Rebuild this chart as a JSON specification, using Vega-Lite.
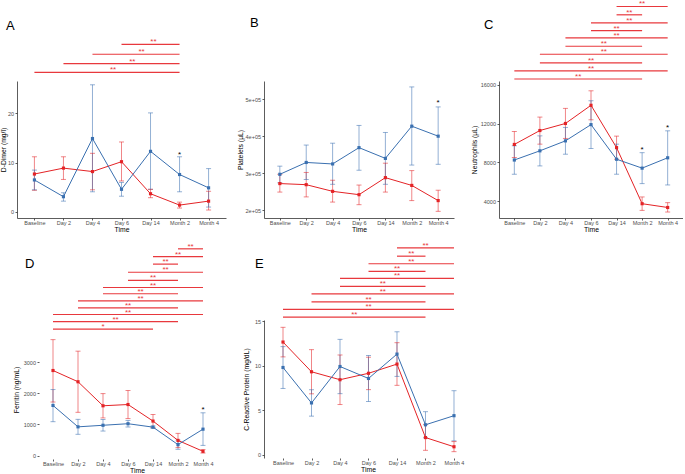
{
"$schema": "https://vega.github.io/schema/vega-lite/v6.json",
"background": "white",
"padding": 0,
"autosize": {"type": "pad"},
"config": {
  "font": "Liberation Sans",
  "view": {"stroke": null},
  "axis": {"grid": false, "labelFont": "Liberation Sans", "labelFontSize": 5.5, "labelColor": "#4D4D4D", "labelOverlap": false, "tickCount": 10, "tickSize": 2, "tickColor": "#333333", "tickWidth": 0.8, "domainColor": "#333333", "domainWidth": 0.8, "titleFont": "Liberation Sans", "titleFontSize": 6.8, "titleFontWeight": "normal", "titleColor": "#000000", "labelPadding": 1.5, "titlePadding": 2},
  "axisX": {"labelPadding": 0.5, "titlePadding": 0.5},
  "axisY": {"titlePadding": 4},
  "title": {"anchor": "start", "frame": "group", "fontSize": 13, "fontWeight": "normal", "color": "#000000", "offset": 0, "font": "Liberation Sans"}
},
"datasets": {
  "pts": [
    {"p":"A","g":"r","t":1,"y":7.7,"lo":4.4,"hi":11.2},{"p":"A","g":"r","t":2,"y":8.9,"lo":6.6,"hi":11.2},{"p":"A","g":"r","t":3,"y":8.2,"lo":4.5,"hi":11.9},{"p":"A","g":"r","t":4,"y":10.2,"lo":6.3,"hi":14.2},{"p":"A","g":"r","t":5,"y":3.7,"lo":2.9,"hi":4.6},{"p":"A","g":"r","t":6,"y":1.4,"lo":0.8,"hi":2.0},{"p":"A","g":"r","t":7,"y":2.2,"lo":0.4,"hi":4.2},
    {"p":"A","g":"b","t":1,"y":6.5,"lo":4.5,"hi":8.5},{"p":"A","g":"b","t":2,"y":3.1,"lo":2.2,"hi":3.9},{"p":"A","g":"b","t":3,"y":14.9,"lo":4.1,"hi":25.8},{"p":"A","g":"b","t":4,"y":4.6,"lo":3.2,"hi":6.0},{"p":"A","g":"b","t":5,"y":12.3,"lo":4.6,"hi":20.1},{"p":"A","g":"b","t":6,"y":7.6,"lo":4.1,"hi":11.2},{"p":"A","g":"b","t":7,"y":4.9,"lo":1.0,"hi":8.8},
    {"p":"B","g":"r","t":1,"y":272000,"lo":249000,"hi":297000},{"p":"B","g":"r","t":2,"y":269000,"lo":236000,"hi":302000},{"p":"B","g":"r","t":3,"y":251000,"lo":222000,"hi":281000},{"p":"B","g":"r","t":4,"y":242000,"lo":215000,"hi":268000},{"p":"B","g":"r","t":5,"y":288000,"lo":249000,"hi":327000},{"p":"B","g":"r","t":6,"y":267000,"lo":226000,"hi":307000},{"p":"B","g":"r","t":7,"y":226000,"lo":197000,"hi":254000},
    {"p":"B","g":"b","t":1,"y":297000,"lo":274000,"hi":319000},{"p":"B","g":"b","t":2,"y":329000,"lo":283000,"hi":376000},{"p":"B","g":"b","t":3,"y":325000,"lo":270000,"hi":381000},{"p":"B","g":"b","t":4,"y":369000,"lo":308000,"hi":429000},{"p":"B","g":"b","t":5,"y":340000,"lo":270000,"hi":410000},{"p":"B","g":"b","t":6,"y":427000,"lo":322000,"hi":533000},{"p":"B","g":"b","t":7,"y":400000,"lo":324000,"hi":479000},
    {"p":"C","g":"r","t":1,"y":9850,"lo":8500,"hi":11190},{"p":"C","g":"r","t":2,"y":11290,"lo":9880,"hi":12680},{"p":"C","g":"r","t":3,"y":12020,"lo":10470,"hi":13580},{"p":"C","g":"r","t":4,"y":13900,"lo":12400,"hi":15400},{"p":"C","g":"r","t":5,"y":9520,"lo":8320,"hi":10710},{"p":"C","g":"r","t":6,"y":3720,"lo":3030,"hi":4420},{"p":"C","g":"r","t":7,"y":3330,"lo":2860,"hi":3830},
    {"p":"C","g":"b","t":1,"y":8240,"lo":6770,"hi":9710},{"p":"C","g":"b","t":2,"y":9190,"lo":7630,"hi":10740},{"p":"C","g":"b","t":3,"y":10220,"lo":8840,"hi":11610},{"p":"C","g":"b","t":4,"y":11900,"lo":9430,"hi":14370},{"p":"C","g":"b","t":5,"y":8320,"lo":6770,"hi":9880},{"p":"C","g":"b","t":6,"y":7400,"lo":5800,"hi":9000},{"p":"C","g":"b","t":7,"y":8470,"lo":5660,"hi":11260},
    {"p":"D","g":"r","t":1,"y":2730,"lo":1720,"hi":3720},{"p":"D","g":"r","t":2,"y":2370,"lo":1390,"hi":3350},{"p":"D","g":"r","t":3,"y":1600,"lo":1210,"hi":1990},{"p":"D","g":"r","t":4,"y":1640,"lo":1190,"hi":2090},{"p":"D","g":"r","t":5,"y":1110,"lo":900,"hi":1320},{"p":"D","g":"r","t":6,"y":490,"lo":260,"hi":715},{"p":"D","g":"r","t":7,"y":140,"lo":85,"hi":195},
    {"p":"D","g":"b","t":1,"y":1610,"lo":1090,"hi":2120},{"p":"D","g":"b","t":2,"y":925,"lo":685,"hi":1165},{"p":"D","g":"b","t":3,"y":975,"lo":790,"hi":1160},{"p":"D","g":"b","t":4,"y":1025,"lo":920,"hi":1130},{"p":"D","g":"b","t":5,"y":915,"lo":878,"hi":952},{"p":"D","g":"b","t":6,"y":355,"lo":205,"hi":500},{"p":"D","g":"b","t":7,"y":850,"lo":330,"hi":1375},
    {"p":"E","g":"r","t":1,"y":12.65,"lo":10.99,"hi":14.3},{"p":"E","g":"r","t":2,"y":9.32,"lo":6.85,"hi":11.8},{"p":"E","g":"r","t":3,"y":8.43,"lo":5.65,"hi":11.2},{"p":"E","g":"r","t":4,"y":9.15,"lo":7.32,"hi":10.95},{"p":"E","g":"r","t":5,"y":10.18,"lo":7.8,"hi":12.58},{"p":"E","g":"r","t":6,"y":1.95,"lo":0.52,"hi":3.4},{"p":"E","g":"r","t":7,"y":0.92,"lo":0.37,"hi":1.5},
    {"p":"E","g":"b","t":1,"y":9.8,"lo":7.45,"hi":12.14},{"p":"E","g":"b","t":2,"y":5.83,"lo":4.35,"hi":7.31},{"p":"E","g":"b","t":3,"y":9.91,"lo":6.87,"hi":12.95},{"p":"E","g":"b","t":4,"y":8.57,"lo":5.99,"hi":11.14},{"p":"E","g":"b","t":5,"y":11.3,"lo":8.8,"hi":13.8},{"p":"E","g":"b","t":6,"y":3.38,"lo":1.93,"hi":4.85},{"p":"E","g":"b","t":7,"y":4.4,"lo":1.58,"hi":7.2}
  ],
  "sig": [
    {"p":"A","a":1,"b":6,"y":28.3,"m":3.71,"lab":"**"},{"p":"A","a":2,"b":6,"y":30.1,"m":4.37,"lab":"**"},{"p":"A","a":3,"b":6,"y":32.0,"m":4.69,"lab":"**"},{"p":"A","a":4,"b":6,"y":34.0,"m":5.1,"lab":"**"},
    {"p":"C","a":5,"b":7,"y":24120,"m":6,"lab":"**"},{"p":"C","a":5,"b":6,"y":23260,"m":5.5,"lab":"**"},{"p":"C","a":4,"b":7,"y":22430,"m":5.5,"lab":"**"},{"p":"C","a":4,"b":6,"y":21630,"m":5,"lab":"**"},{"p":"C","a":3,"b":7,"y":20870,"m":5,"lab":"**"},{"p":"C","a":3,"b":6,"y":20010,"m":4.5,"lab":"**"},{"p":"C","a":2,"b":7,"y":19180,"m":4.5,"lab":"**"},{"p":"C","a":2,"b":6,"y":18280,"m":4,"lab":"**"},{"p":"C","a":1,"b":7,"y":17450,"m":4,"lab":"**"},{"p":"C","a":1,"b":6,"y":16620,"m":3.5,"lab":"**"},
    {"p":"D","a":6,"b":7,"y":6630,"m":6.5,"lab":"**"},{"p":"D","a":5,"b":7,"y":6380,"m":6,"lab":"**"},{"p":"D","a":5,"b":6,"y":6140,"m":5.5,"lab":"**"},{"p":"D","a":4,"b":7,"y":5880,"m":5.5,"lab":"**"},{"p":"D","a":4,"b":6,"y":5620,"m":5,"lab":"**"},{"p":"D","a":3,"b":7,"y":5390,"m":5,"lab":"**"},{"p":"D","a":3,"b":6,"y":5190,"m":4.5,"lab":"**"},{"p":"D","a":2,"b":7,"y":4960,"m":4.5,"lab":"**"},{"p":"D","a":2,"b":6,"y":4740,"m":4,"lab":"**"},{"p":"D","a":1,"b":7,"y":4525,"m":4,"lab":"**"},{"p":"D","a":1,"b":6,"y":4300,"m":3.5,"lab":"**"},{"p":"D","a":1,"b":5,"y":4055,"m":3,"lab":"*"},
    {"p":"E","a":5,"b":7,"y":23.2,"m":6,"lab":"**"},{"p":"E","a":5,"b":6,"y":22.27,"m":5.5,"lab":"**"},{"p":"E","a":4,"b":7,"y":21.42,"m":5.5,"lab":"**"},{"p":"E","a":4,"b":6,"y":20.56,"m":5,"lab":"**"},{"p":"E","a":3,"b":7,"y":19.78,"m":5,"lab":"**"},{"p":"E","a":3,"b":6,"y":18.89,"m":4.5,"lab":"**"},{"p":"E","a":2,"b":7,"y":18.04,"m":4.5,"lab":"**"},{"p":"E","a":2,"b":6,"y":17.15,"m":4,"lab":"**"},{"p":"E","a":1,"b":7,"y":16.3,"m":4,"lab":"**"},{"p":"E","a":1,"b":6,"y":15.44,"m":3.5,"lab":"**"}
  ],
  "star": [
    {"p":"A","t":6,"y":11.9},{"p":"B","t":7,"y":494000},{"p":"C","t":6,"y":9460},{"p":"C","t":7,"y":11710},{"p":"D","t":7,"y":1537}
  ]
},
"columns": 3,
"bounds": "flush",
"spacing": {"row": 102, "column": 38},
"concat": [
{
 "width": 209, "height": 137,
 "title": {"text": "A", "dx": -11, "dy": -1},
 "layer": [
  {"data": {"name": "sig"}, "transform": [{"filter": "datum.p == 'A'"}], "mark": {"type": "rule", "color": "#E8383D", "strokeWidth": 1.2},
   "encoding": {"x": {"field": "a", "type": "quantitative", "scale": {"domain": [0.4, 7.6], "nice": false, "zero": false}}, "x2": {"field": "b"}, "y": {"field": "y", "type": "quantitative", "scale": {"domain": [-1.22, 26.57], "nice": false, "zero": false}}}},
  {"data": {"name": "sig"}, "transform": [{"filter": "datum.p == 'A'"}], "mark": {"type": "text", "color": "#E8383D", "fontSize": 8, "baseline": "alphabetic"},
   "encoding": {"x": {"field": "m", "type": "quantitative", "scale": {"domain": [0.4, 7.6], "nice": false, "zero": false}}, "y": {"field": "y", "type": "quantitative", "scale": {"domain": [-1.22, 26.57], "nice": false, "zero": false}}, "text": {"field": "lab"}}},
  {"data": {"name": "pts"}, "transform": [{"filter": "datum.p == 'A'"}], "mark": {"type": "rule", "strokeWidth": 1, "opacity": 0.55},
   "encoding": {"x": {"field": "t", "type": "quantitative", "scale": {"domain": [0.4, 7.6], "nice": false, "zero": false}}, "y": {"field": "lo", "type": "quantitative", "scale": {"domain": [-1.22, 26.57], "nice": false, "zero": false}}, "y2": {"field": "hi"}, "color": {"field": "g", "type": "nominal", "scale": {"domain": ["r", "b"], "range": ["#E42326", "#3A70B0"]}, "legend": null}}},
  {"data": {"name": "pts"}, "transform": [{"filter": "datum.p == 'A'"}], "mark": {"type": "tick", "orient": "horizontal", "size": 5, "thickness": 1, "opacity": 0.55},
   "encoding": {"x": {"field": "t", "type": "quantitative", "scale": {"domain": [0.4, 7.6], "nice": false, "zero": false}}, "y": {"field": "lo", "type": "quantitative", "scale": {"domain": [-1.22, 26.57], "nice": false, "zero": false}}, "color": {"field": "g", "type": "nominal", "scale": {"domain": ["r", "b"], "range": ["#E42326", "#3A70B0"]}, "legend": null}}},
  {"data": {"name": "pts"}, "transform": [{"filter": "datum.p == 'A'"}], "mark": {"type": "tick", "orient": "horizontal", "size": 5, "thickness": 1, "opacity": 0.55},
   "encoding": {"x": {"field": "t", "type": "quantitative", "scale": {"domain": [0.4, 7.6], "nice": false, "zero": false}}, "y": {"field": "hi", "type": "quantitative", "scale": {"domain": [-1.22, 26.57], "nice": false, "zero": false}}, "color": {"field": "g", "type": "nominal", "scale": {"domain": ["r", "b"], "range": ["#E42326", "#3A70B0"]}, "legend": null}}},
  {"data": {"name": "pts"}, "transform": [{"filter": "datum.p == 'A'"}], "mark": {"type": "line", "strokeWidth": 1},
   "encoding": {"x": {"field": "t", "type": "quantitative", "scale": {"domain": [0.4, 7.6], "nice": false, "zero": false}, "axis": {"values": [1,2,3,4,5,6,7], "tickCount": 10, "labelOverlap": false, "labelExpr": "['Baseline','Day 2','Day 4','Day 6','Day 14','Month 2','Month  4'][datum.value-1]", "title": "Time"}}, "y": {"field": "y", "type": "quantitative", "scale": {"domain": [-1.22, 26.57], "nice": false, "zero": false}, "axis": {"values": [0, 10, 20], "title": "D-Dimer (mg/l)", "titlePadding": 1}}, "color": {"field": "g", "type": "nominal", "scale": {"domain": ["r", "b"], "range": ["#E42326", "#3A70B0"]}, "legend": null}}},
  {"data": {"name": "pts"}, "transform": [{"filter": "datum.p == 'A'"}], "mark": {"type": "point", "shape": "square", "filled": true, "size": 10, "opacity": 1},
   "encoding": {"x": {"field": "t", "type": "quantitative", "scale": {"domain": [0.4, 7.6], "nice": false, "zero": false}}, "y": {"field": "y", "type": "quantitative", "scale": {"domain": [-1.22, 26.57], "nice": false, "zero": false}}, "color": {"field": "g", "type": "nominal", "scale": {"domain": ["r", "b"], "range": ["#E42326", "#3A70B0"]}, "legend": null}}},
  {"data": {"name": "star"}, "transform": [{"filter": "datum.p == 'A'"}], "mark": {"type": "text", "text": "*", "fontSize": 8, "color": "#000000", "baseline": "middle", "dy": 2},
   "encoding": {"x": {"field": "t", "type": "quantitative", "scale": {"domain": [0.4, 7.6], "nice": false, "zero": false}}, "y": {"field": "y", "type": "quantitative", "scale": {"domain": [-1.22, 26.57], "nice": false, "zero": false}}}}
 ]
},
{
 "width": 190, "height": 137,
 "title": {"text": "B", "dx": -14, "dy": -47},
 "layer": [
  {"data": {"name": "pts"}, "transform": [{"filter": "datum.p == 'B'"}], "mark": {"type": "rule", "strokeWidth": 1, "opacity": 0.55},
   "encoding": {"x": {"field": "t", "type": "quantitative", "scale": {"domain": [0.4, 7.6], "nice": false, "zero": false}}, "y": {"field": "lo", "type": "quantitative", "scale": {"domain": [179000, 549000], "nice": false, "zero": false}}, "y2": {"field": "hi"}, "color": {"field": "g", "type": "nominal", "scale": {"domain": ["r", "b"], "range": ["#E42326", "#3A70B0"]}, "legend": null}}},
  {"data": {"name": "pts"}, "transform": [{"filter": "datum.p == 'B'"}], "mark": {"type": "tick", "orient": "horizontal", "size": 5, "thickness": 1, "opacity": 0.55},
   "encoding": {"x": {"field": "t", "type": "quantitative", "scale": {"domain": [0.4, 7.6], "nice": false, "zero": false}}, "y": {"field": "lo", "type": "quantitative", "scale": {"domain": [179000, 549000], "nice": false, "zero": false}}, "color": {"field": "g", "type": "nominal", "scale": {"domain": ["r", "b"], "range": ["#E42326", "#3A70B0"]}, "legend": null}}},
  {"data": {"name": "pts"}, "transform": [{"filter": "datum.p == 'B'"}], "mark": {"type": "tick", "orient": "horizontal", "size": 5, "thickness": 1, "opacity": 0.55},
   "encoding": {"x": {"field": "t", "type": "quantitative", "scale": {"domain": [0.4, 7.6], "nice": false, "zero": false}}, "y": {"field": "hi", "type": "quantitative", "scale": {"domain": [179000, 549000], "nice": false, "zero": false}}, "color": {"field": "g", "type": "nominal", "scale": {"domain": ["r", "b"], "range": ["#E42326", "#3A70B0"]}, "legend": null}}},
  {"data": {"name": "pts"}, "transform": [{"filter": "datum.p == 'B'"}], "mark": {"type": "line", "strokeWidth": 1},
   "encoding": {"x": {"field": "t", "type": "quantitative", "scale": {"domain": [0.4, 7.6], "nice": false, "zero": false}, "axis": {"values": [1,2,3,4,5,6,7], "tickCount": 10, "labelOverlap": false, "labelExpr": "['Baseline','Day 2','Day 4','Day 6','Day 14','Month 2','Month  4'][datum.value-1]", "title": "Time"}}, "y": {"field": "y", "type": "quantitative", "scale": {"domain": [179000, 549000], "nice": false, "zero": false}, "axis": {"values": [200000, 300000, 400000, 500000], "labelExpr": "(datum.value/100000) + 'e+05'", "title": "Platelets (µL)", "titlePadding": 2}}, "color": {"field": "g", "type": "nominal", "scale": {"domain": ["r", "b"], "range": ["#E42326", "#3A70B0"]}, "legend": null}}},
  {"data": {"name": "pts"}, "transform": [{"filter": "datum.p == 'B'"}], "mark": {"type": "point", "shape": "square", "filled": true, "size": 10, "opacity": 1},
   "encoding": {"x": {"field": "t", "type": "quantitative", "scale": {"domain": [0.4, 7.6], "nice": false, "zero": false}}, "y": {"field": "y", "type": "quantitative", "scale": {"domain": [179000, 549000], "nice": false, "zero": false}}, "color": {"field": "g", "type": "nominal", "scale": {"domain": ["r", "b"], "range": ["#E42326", "#3A70B0"]}, "legend": null}}},
  {"data": {"name": "star"}, "transform": [{"filter": "datum.p == 'B'"}], "mark": {"type": "text", "text": "*", "fontSize": 8, "color": "#000000", "baseline": "middle", "dy": 2},
   "encoding": {"x": {"field": "t", "type": "quantitative", "scale": {"domain": [0.4, 7.6], "nice": false, "zero": false}}, "y": {"field": "y", "type": "quantitative", "scale": {"domain": [179000, 549000], "nice": false, "zero": false}}}}
 ]
},
{
 "width": 184, "height": 137,
 "title": {"text": "C", "dx": -15, "dy": 36},
 "layer": [
  {"data": {"name": "sig"}, "transform": [{"filter": "datum.p == 'C'"}], "mark": {"type": "rule", "color": "#E8383D", "strokeWidth": 1.2},
   "encoding": {"x": {"field": "a", "type": "quantitative", "scale": {"domain": [0.4, 7.6], "nice": false, "zero": false}}, "x2": {"field": "b"}, "y": {"field": "y", "type": "quantitative", "scale": {"domain": [2242, 16413], "nice": false, "zero": false}}}},
  {"data": {"name": "sig"}, "transform": [{"filter": "datum.p == 'C'"}], "mark": {"type": "text", "color": "#E8383D", "fontSize": 8, "baseline": "alphabetic"},
   "encoding": {"x": {"field": "m", "type": "quantitative", "scale": {"domain": [0.4, 7.6], "nice": false, "zero": false}}, "y": {"field": "y", "type": "quantitative", "scale": {"domain": [2242, 16413], "nice": false, "zero": false}}, "text": {"field": "lab"}}},
  {"data": {"name": "pts"}, "transform": [{"filter": "datum.p == 'C'"}], "mark": {"type": "rule", "strokeWidth": 1, "opacity": 0.55},
   "encoding": {"x": {"field": "t", "type": "quantitative", "scale": {"domain": [0.4, 7.6], "nice": false, "zero": false}}, "y": {"field": "lo", "type": "quantitative", "scale": {"domain": [2242, 16413], "nice": false, "zero": false}}, "y2": {"field": "hi"}, "color": {"field": "g", "type": "nominal", "scale": {"domain": ["r", "b"], "range": ["#E42326", "#3A70B0"]}, "legend": null}}},
  {"data": {"name": "pts"}, "transform": [{"filter": "datum.p == 'C'"}], "mark": {"type": "tick", "orient": "horizontal", "size": 5, "thickness": 1, "opacity": 0.55},
   "encoding": {"x": {"field": "t", "type": "quantitative", "scale": {"domain": [0.4, 7.6], "nice": false, "zero": false}}, "y": {"field": "lo", "type": "quantitative", "scale": {"domain": [2242, 16413], "nice": false, "zero": false}}, "color": {"field": "g", "type": "nominal", "scale": {"domain": ["r", "b"], "range": ["#E42326", "#3A70B0"]}, "legend": null}}},
  {"data": {"name": "pts"}, "transform": [{"filter": "datum.p == 'C'"}], "mark": {"type": "tick", "orient": "horizontal", "size": 5, "thickness": 1, "opacity": 0.55},
   "encoding": {"x": {"field": "t", "type": "quantitative", "scale": {"domain": [0.4, 7.6], "nice": false, "zero": false}}, "y": {"field": "hi", "type": "quantitative", "scale": {"domain": [2242, 16413], "nice": false, "zero": false}}, "color": {"field": "g", "type": "nominal", "scale": {"domain": ["r", "b"], "range": ["#E42326", "#3A70B0"]}, "legend": null}}},
  {"data": {"name": "pts"}, "transform": [{"filter": "datum.p == 'C'"}], "mark": {"type": "line", "strokeWidth": 1},
   "encoding": {"x": {"field": "t", "type": "quantitative", "scale": {"domain": [0.4, 7.6], "nice": false, "zero": false}, "axis": {"values": [1,2,3,4,5,6,7], "tickCount": 10, "labelOverlap": false, "labelExpr": "['Baseline','Day 2','Day 4','Day 6','Day 14','Month 2','Month  4'][datum.value-1]", "title": "Time"}}, "y": {"field": "y", "type": "quantitative", "scale": {"domain": [2242, 16413], "nice": false, "zero": false}, "axis": {"values": [4000, 8000, 12000, 16000], "format": "d", "title": "Neutrophils (µL)", "titlePadding": 3}}, "color": {"field": "g", "type": "nominal", "scale": {"domain": ["r", "b"], "range": ["#E42326", "#3A70B0"]}, "legend": null}}},
  {"data": {"name": "pts"}, "transform": [{"filter": "datum.p == 'C'"}], "mark": {"type": "point", "shape": "square", "filled": true, "size": 10, "opacity": 1},
   "encoding": {"x": {"field": "t", "type": "quantitative", "scale": {"domain": [0.4, 7.6], "nice": false, "zero": false}}, "y": {"field": "y", "type": "quantitative", "scale": {"domain": [2242, 16413], "nice": false, "zero": false}}, "color": {"field": "g", "type": "nominal", "scale": {"domain": ["r", "b"], "range": ["#E42326", "#3A70B0"]}, "legend": null}}},
  {"data": {"name": "star"}, "transform": [{"filter": "datum.p == 'C'"}], "mark": {"type": "text", "text": "*", "fontSize": 8, "color": "#000000", "baseline": "middle", "dy": 2},
   "encoding": {"x": {"field": "t", "type": "quantitative", "scale": {"domain": [0.4, 7.6], "nice": false, "zero": false}}, "y": {"field": "y", "type": "quantitative", "scale": {"domain": [2242, 16413], "nice": false, "zero": false}}}}
 ]
},
{
 "width": 209, "height": 139,
 "title": {"text": "D", "dx": 8, "dy": 32},
 "layer": [
  {"mark": {"type": "rule", "color": "#333333", "strokeWidth": 0.8},
   "encoding": {"x": {"datum": 0.44, "type": "quantitative", "scale": {"domain": [-0.44, 7.92], "nice": false, "zero": false}}, "y": {"datum": -106, "type": "quantitative", "scale": {"domain": [-106, 4349], "nice": false, "zero": false}}, "y2": {"datum": 3900}}},
  {"mark": {"type": "rule", "color": "#333333", "strokeWidth": 0.8},
   "encoding": {"x": {"datum": 0.44, "type": "quantitative", "scale": {"domain": [-0.44, 7.92], "nice": false, "zero": false}}, "x2": {"datum": 7.6}, "y": {"datum": -106, "type": "quantitative", "scale": {"domain": [-106, 4349], "nice": false, "zero": false}}}},
  {"data": {"name": "sig"}, "transform": [{"filter": "datum.p == 'D'"}], "mark": {"type": "rule", "color": "#E8383D", "strokeWidth": 1.2},
   "encoding": {"x": {"field": "a", "type": "quantitative", "scale": {"domain": [-0.44, 7.92], "nice": false, "zero": false}}, "x2": {"field": "b"}, "y": {"field": "y", "type": "quantitative", "scale": {"domain": [-106, 4349], "nice": false, "zero": false}}}},
  {"data": {"name": "sig"}, "transform": [{"filter": "datum.p == 'D'"}], "mark": {"type": "text", "color": "#E8383D", "fontSize": 8, "baseline": "alphabetic"},
   "encoding": {"x": {"field": "m", "type": "quantitative", "scale": {"domain": [-0.44, 7.92], "nice": false, "zero": false}}, "y": {"field": "y", "type": "quantitative", "scale": {"domain": [-106, 4349], "nice": false, "zero": false}}, "text": {"field": "lab"}}},
  {"data": {"name": "pts"}, "transform": [{"filter": "datum.p == 'D'"}], "mark": {"type": "rule", "strokeWidth": 1, "opacity": 0.55},
   "encoding": {"x": {"field": "t", "type": "quantitative", "scale": {"domain": [-0.44, 7.92], "nice": false, "zero": false}}, "y": {"field": "lo", "type": "quantitative", "scale": {"domain": [-106, 4349], "nice": false, "zero": false}}, "y2": {"field": "hi"}, "color": {"field": "g", "type": "nominal", "scale": {"domain": ["r", "b"], "range": ["#E42326", "#3A70B0"]}, "legend": null}}},
  {"data": {"name": "pts"}, "transform": [{"filter": "datum.p == 'D'"}], "mark": {"type": "tick", "orient": "horizontal", "size": 5, "thickness": 1, "opacity": 0.55},
   "encoding": {"x": {"field": "t", "type": "quantitative", "scale": {"domain": [-0.44, 7.92], "nice": false, "zero": false}}, "y": {"field": "lo", "type": "quantitative", "scale": {"domain": [-106, 4349], "nice": false, "zero": false}}, "color": {"field": "g", "type": "nominal", "scale": {"domain": ["r", "b"], "range": ["#E42326", "#3A70B0"]}, "legend": null}}},
  {"data": {"name": "pts"}, "transform": [{"filter": "datum.p == 'D'"}], "mark": {"type": "tick", "orient": "horizontal", "size": 5, "thickness": 1, "opacity": 0.55},
   "encoding": {"x": {"field": "t", "type": "quantitative", "scale": {"domain": [-0.44, 7.92], "nice": false, "zero": false}}, "y": {"field": "hi", "type": "quantitative", "scale": {"domain": [-106, 4349], "nice": false, "zero": false}}, "color": {"field": "g", "type": "nominal", "scale": {"domain": ["r", "b"], "range": ["#E42326", "#3A70B0"]}, "legend": null}}},
  {"data": {"name": "pts"}, "transform": [{"filter": "datum.p == 'D'"}], "mark": {"type": "line", "strokeWidth": 1},
   "encoding": {"x": {"field": "t", "type": "quantitative", "scale": {"domain": [-0.44, 7.92], "nice": false, "zero": false}, "axis": {"values": [1,2,3,4,5,6,7], "tickCount": 10, "labelOverlap": false, "labelExpr": "['Baseline','Day 2','Day 4','Day 6','Day 14','Month 2','Month  4'][datum.value-1]", "title": "Time", "domain": false, "titleX": 120}}, "y": {"field": "y", "type": "quantitative", "scale": {"domain": [-106, 4349], "nice": false, "zero": false}, "axis": {"values": [0, 1000, 2000, 3000], "format": "d", "title": "Ferritin (ng/mL)", "domain": false, "offset": -22}}, "color": {"field": "g", "type": "nominal", "scale": {"domain": ["r", "b"], "range": ["#E42326", "#3A70B0"]}, "legend": null}}},
  {"data": {"name": "pts"}, "transform": [{"filter": "datum.p == 'D'"}], "mark": {"type": "point", "shape": "square", "filled": true, "size": 10, "opacity": 1},
   "encoding": {"x": {"field": "t", "type": "quantitative", "scale": {"domain": [-0.44, 7.92], "nice": false, "zero": false}}, "y": {"field": "y", "type": "quantitative", "scale": {"domain": [-106, 4349], "nice": false, "zero": false}}, "color": {"field": "g", "type": "nominal", "scale": {"domain": ["r", "b"], "range": ["#E42326", "#3A70B0"]}, "legend": null}}},
  {"data": {"name": "star"}, "transform": [{"filter": "datum.p == 'D'"}], "mark": {"type": "text", "text": "*", "fontSize": 8, "color": "#000000", "baseline": "middle", "dy": 2},
   "encoding": {"x": {"field": "t", "type": "quantitative", "scale": {"domain": [-0.44, 7.92], "nice": false, "zero": false}}, "y": {"field": "y", "type": "quantitative", "scale": {"domain": [-106, 4349], "nice": false, "zero": false}}}}
 ]
},
{
 "width": 197, "height": 138,
 "title": {"text": "E", "dx": -9, "dy": 33},
 "layer": [
  {"mark": {"type": "rule", "color": "#333333", "strokeWidth": 0.8},
   "encoding": {"x": {"datum": 0.333, "type": "quantitative", "scale": {"domain": [0.333, 7.246], "nice": false, "zero": false}}, "x2": {"datum": 7.6}, "y": {"datum": -0.34, "type": "quantitative", "scale": {"domain": [-0.34, 15.12], "nice": false, "zero": false}}}},
  {"data": {"name": "sig"}, "transform": [{"filter": "datum.p == 'E'"}], "mark": {"type": "rule", "color": "#E8383D", "strokeWidth": 1.2},
   "encoding": {"x": {"field": "a", "type": "quantitative", "scale": {"domain": [0.333, 7.246], "nice": false, "zero": false}}, "x2": {"field": "b"}, "y": {"field": "y", "type": "quantitative", "scale": {"domain": [-0.34, 15.12], "nice": false, "zero": false}}}},
  {"data": {"name": "sig"}, "transform": [{"filter": "datum.p == 'E'"}], "mark": {"type": "text", "color": "#E8383D", "fontSize": 8, "baseline": "alphabetic"},
   "encoding": {"x": {"field": "m", "type": "quantitative", "scale": {"domain": [0.333, 7.246], "nice": false, "zero": false}}, "y": {"field": "y", "type": "quantitative", "scale": {"domain": [-0.34, 15.12], "nice": false, "zero": false}}, "text": {"field": "lab"}}},
  {"data": {"name": "pts"}, "transform": [{"filter": "datum.p == 'E'"}], "mark": {"type": "rule", "strokeWidth": 1, "opacity": 0.55},
   "encoding": {"x": {"field": "t", "type": "quantitative", "scale": {"domain": [0.333, 7.246], "nice": false, "zero": false}}, "y": {"field": "lo", "type": "quantitative", "scale": {"domain": [-0.34, 15.12], "nice": false, "zero": false}}, "y2": {"field": "hi"}, "color": {"field": "g", "type": "nominal", "scale": {"domain": ["r", "b"], "range": ["#E42326", "#3A70B0"]}, "legend": null}}},
  {"data": {"name": "pts"}, "transform": [{"filter": "datum.p == 'E'"}], "mark": {"type": "tick", "orient": "horizontal", "size": 5, "thickness": 1, "opacity": 0.55},
   "encoding": {"x": {"field": "t", "type": "quantitative", "scale": {"domain": [0.333, 7.246], "nice": false, "zero": false}}, "y": {"field": "lo", "type": "quantitative", "scale": {"domain": [-0.34, 15.12], "nice": false, "zero": false}}, "color": {"field": "g", "type": "nominal", "scale": {"domain": ["r", "b"], "range": ["#E42326", "#3A70B0"]}, "legend": null}}},
  {"data": {"name": "pts"}, "transform": [{"filter": "datum.p == 'E'"}], "mark": {"type": "tick", "orient": "horizontal", "size": 5, "thickness": 1, "opacity": 0.55},
   "encoding": {"x": {"field": "t", "type": "quantitative", "scale": {"domain": [0.333, 7.246], "nice": false, "zero": false}}, "y": {"field": "hi", "type": "quantitative", "scale": {"domain": [-0.34, 15.12], "nice": false, "zero": false}}, "color": {"field": "g", "type": "nominal", "scale": {"domain": ["r", "b"], "range": ["#E42326", "#3A70B0"]}, "legend": null}}},
  {"data": {"name": "pts"}, "transform": [{"filter": "datum.p == 'E'"}], "mark": {"type": "line", "strokeWidth": 1},
   "encoding": {"x": {"field": "t", "type": "quantitative", "scale": {"domain": [0.333, 7.246], "nice": false, "zero": false}, "axis": {"values": [1,2,3,4,5,6,7], "tickCount": 10, "labelOverlap": false, "labelExpr": "['Baseline','Day 2','Day 4','Day 6','Day 14','Month 2','Month  4'][datum.value-1]", "title": "Time", "domain": false, "titleX": 104}}, "y": {"field": "y", "type": "quantitative", "scale": {"domain": [-0.34, 15.12], "nice": false, "zero": false}, "axis": {"values": [0, 5, 10, 15], "title": "C-Reactive Protein (mg/dL)", "titlePadding": 5}}, "color": {"field": "g", "type": "nominal", "scale": {"domain": ["r", "b"], "range": ["#E42326", "#3A70B0"]}, "legend": null}}},
  {"data": {"name": "pts"}, "transform": [{"filter": "datum.p == 'E'"}], "mark": {"type": "point", "shape": "square", "filled": true, "size": 10, "opacity": 1},
   "encoding": {"x": {"field": "t", "type": "quantitative", "scale": {"domain": [0.333, 7.246], "nice": false, "zero": false}}, "y": {"field": "y", "type": "quantitative", "scale": {"domain": [-0.34, 15.12], "nice": false, "zero": false}}, "color": {"field": "g", "type": "nominal", "scale": {"domain": ["r", "b"], "range": ["#E42326", "#3A70B0"]}, "legend": null}}}
 ]
}
]
}
